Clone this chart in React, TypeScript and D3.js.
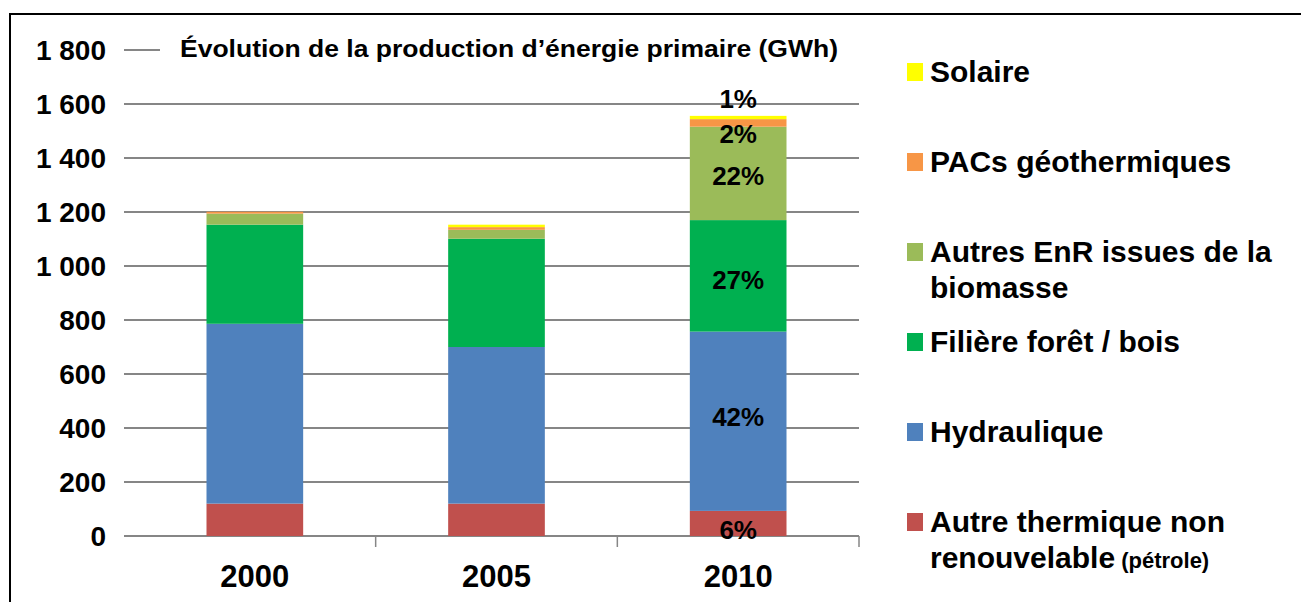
import React from "react";
import * as d3 from "d3";

// years on the x axis
const years = ["2000", "2005", "2010"];

// series, bottom to top of each stack (GWh)
const seriesNames = [
  "Autre thermique non renouvelable",
  "Hydraulique",
  "Filière forêt / bois",
  "Autres EnR issues de la biomasse",
  "PACs géothermiques",
  "Solaire",
];
const thermique = [120, 120, 93];
const hydraulique = [666, 580, 664];
const foretBois = [367, 401, 413];
const autresEnR = [41, 33, 346];
const pacs = [7, 10, 28];
const solaire = [0, 9, 12];

const colors = ["#C0504D", "#4F81BD", "#00B050", "#9BBB59", "#F79646", "#FFFF00"];

const yTicks = [0, 200, 400, 600, 800, 1000, 1200, 1400, 1600, 1800];
const yTickLabels = ["0", "200", "400", "600", "800", "1\u00a0000", "1\u00a0200", "1\u00a0400", "1\u00a0600", "1\u00a0800"];

// data labels on the 2010 bar (same order as series)
const labels2010 = ["6%", "42%", "27%", "22%", "2%", "1%"];
const labelShift = [6, -5, 4, 2, 11, -19]; // px nudge from segment middle

// legend, top to bottom
const legendItems = [
  { lines: ["Solaire"], color: 5 },
  { lines: ["PACs géothermiques"], color: 4 },
  { lines: ["Autres EnR issues de la", "biomasse"], color: 3 },
  { lines: ["Filière forêt / bois"], color: 2 },
  { lines: ["Hydraulique"], color: 1 },
  { lines: ["Autre thermique non", "renouvelable"], color: 0, extra: " (pétrole)" },
];

const title = "Évolution de la production d’énergie primaire (GWh)";

const W = 1301;
const H = 602;
const FONT = "'Liberation Sans', Arial, sans-serif";

export default function App() {
  const rows = years.map((yr, i) => ({
    year: yr,
    s0: thermique[i],
    s1: hydraulique[i],
    s2: foretBois[i],
    s3: autresEnR[i],
    s4: pacs[i],
    s5: solaire[i],
  }));
  const keys = ["s0", "s1", "s2", "s3", "s4", "s5"];
  const stacked = d3.stack<any>().keys(keys)(rows);

  const x = d3.scaleBand().domain(years).range([134, 859]).paddingInner(0.6).paddingOuter(0.3);
  const y = d3.scaleLinear().domain([0, 1800]).range([536, 50]);
  const bw = x.bandwidth();
  const step = x.step();

  return (
    <svg width={W} height={H} style={{ position: "absolute", left: 0, top: 0, background: "#fff" }} fontFamily={FONT}>
      {/* frame */}
      <line x1={9} y1={14} x2={W} y2={14} stroke="#000" strokeWidth={2} />
      <line x1={10} y1={13} x2={10} y2={H} stroke="#000" strokeWidth={2} />

      {/* gridlines */}
      {yTicks.map((t) => (
        <line key={t} x1={124} x2={859} y1={y(t)} y2={y(t)} stroke="#868686" strokeWidth={2} />
      ))}
      {yTicks.map((t, i) => (
        <text key={"l" + t} x={106} y={y(t)} dy="0.36em" textAnchor="end" fontSize={28} fontWeight="bold">
          {yTickLabels[i]}
        </text>
      ))}

      {/* category tick marks */}
      {years.map((yr) => {
        const bx = (x(yr) as number) + bw + (step - bw) / 2;
        return <line key={"t" + yr} x1={bx} x2={bx} y1={y(0)} y2={y(0) + 11} stroke="#868686" strokeWidth={1.5} />;
      })}

      {/* bars */}
      {stacked.map((layer, si) => (
        <g key={layer.key} fill={colors[si]}>
          {layer.map((d, j) => (
            <rect
              key={j}
              x={x(years[j])}
              width={bw}
              y={y(d[1])}
              height={Math.max(0, y(d[0]) - y(d[1]))}
            />
          ))}
        </g>
      ))}

      {/* 2010 data labels */}
      {stacked.map((layer, si) => {
        const d = layer[2];
        const cx = (x("2010") as number) + bw / 2;
        const cy = (y(d[0]) + y(d[1])) / 2 + labelShift[si];
        return (
          <text key={"dl" + si} x={cx} y={cy} dy="0.36em" textAnchor="middle" fontSize={26} fontWeight="bold">
            {labels2010[si]}
          </text>
        );
      })}

      {/* x labels */}
      {years.map((yr) => (
        <text key={"x" + yr} x={(x(yr) as number) + bw / 2} y={587} textAnchor="middle" fontSize={31} fontWeight="bold">
          {yr}
        </text>
      ))}

      {/* title box covers the top gridline */}
      <rect x={160} y={32} width={705} height={36} fill="#fff" />
      <text x={180} y={57} fontSize={23} fontWeight="bold" textLength={658} lengthAdjust="spacingAndGlyphs">
        {title}
      </text>

      {/* legend */}
      {legendItems.map((item, i) => {
        const base = 82 + i * 90;
        return (
          <g key={"lg" + i}>
            <rect x={907} y={base - 19} width={16} height={18} fill={colors[item.color]} />
            {item.lines.map((ln, k) => (
              <text key={k} x={930} y={base + k * 36} fontSize={30} fontWeight="bold">
                {ln}
                {k === item.lines.length - 1 && item.extra ? (
                  <tspan fontSize={22}>{item.extra}</tspan>
                ) : null}
              </text>
            ))}
          </g>
        );
      })}
    </svg>
  );
}
